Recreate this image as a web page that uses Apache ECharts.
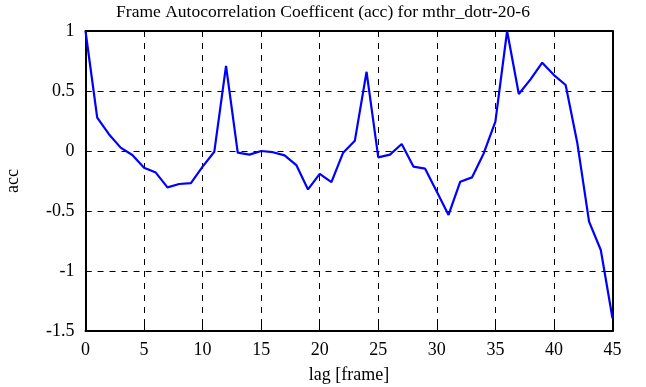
<!DOCTYPE html>
<html><head><meta charset="utf-8">
<script src="https://cdn.jsdelivr.net/npm/echarts@6/dist/echarts.min.js"></script>
<style>html,body{margin:0;padding:0;background:#fff}#c{width:646px;height:387px}</style>
</head><body><div id="c"></div>
<script>
const lags = [0,1,2,3,4,5,6,7,8,9,10,11,12,13,14,15,16,17,18,19,20,21,22,23,24,25,26,27,28,29,30,31,32,33,34,35,36,37,38,39,40,41,42,43,44,45];
const acc = [1.0,0.278,0.14,0.028,-0.033,-0.139,-0.18,-0.303,-0.275,-0.267,-0.13,-0.006,0.71,-0.014,-0.03,0.0,-0.01,-0.036,-0.117,-0.32,-0.19,-0.26,-0.014,0.086,0.66,-0.053,-0.03,0.058,-0.13,-0.147,-0.34,-0.533,-0.256,-0.22,-0.02,0.244,1.0,0.475,0.597,0.736,0.633,0.55,0.064,-0.589,-0.825,-1.394];
const titleText = 'Frame Autocorrelation Coefficent (acc) for mthr_dotr-20-6';
const xName = 'lag [frame]';
const yName = 'acc';
const font = 'Liberation Serif';
const chart = echarts.init(document.getElementById('c'), null, {renderer:'canvas'});
const axisLine = {show:true, onZero:false, lineStyle:{color:'#000', width:2}};
const tick = {show:true, inside:true, length:6, lineStyle:{color:'#000', width:1}};
const split = {show:true, lineStyle:{color:'#000', width:1, type:[6,6]}};
chart.setOption({
  animation:false,
  backgroundColor:'#fff',
  title:{text:titleText, left:'center', top:-2, textStyle:{fontFamily:font, fontWeight:'normal', fontSize:17.5, color:'#000'}},
  grid:{left:85.5, right:33.5, top:31, bottom:56, containLabel:false, outerBoundsMode:'none'},
  xAxis:[{
    type:'value', min:0, max:45, interval:5, position:'bottom',
    name:xName, nameLocation:'middle', nameGap:35,
    nameTextStyle:{fontFamily:font, fontSize:18, color:'#000'},
    axisLine:axisLine, axisTick:tick,
    axisLabel:{fontFamily:font, fontSize:18, color:'#000', margin:10},
    splitLine:split
  },{
    type:'value', min:0, max:45, interval:5, position:'top',
    axisLine:axisLine, axisTick:tick,
    axisLabel:{show:false}, splitLine:{show:false}
  }],
  yAxis:[{
    type:'value', min:-1.5, max:1, interval:0.5, position:'left',
    name:yName, nameLocation:'middle', nameGap:63, nameRotate:90,
    nameTextStyle:{fontFamily:font, fontSize:18, color:'#000'},
    axisLine:axisLine, axisTick:tick,
    axisLabel:{fontFamily:font, fontSize:18, color:'#000', margin:11},
    splitLine:split
  },{
    type:'value', min:-1.5, max:1, interval:0.5, position:'right',
    axisLine:axisLine, axisTick:tick,
    axisLabel:{show:false}, splitLine:{show:false}
  }],
  series:[{
    type:'line', data:lags.map((l,i)=>[l,acc[i]]), showSymbol:false, symbol:'none',
    lineStyle:{color:'#0000ff', width:2.2}, z:5
  }]
});
</script></body></html>
